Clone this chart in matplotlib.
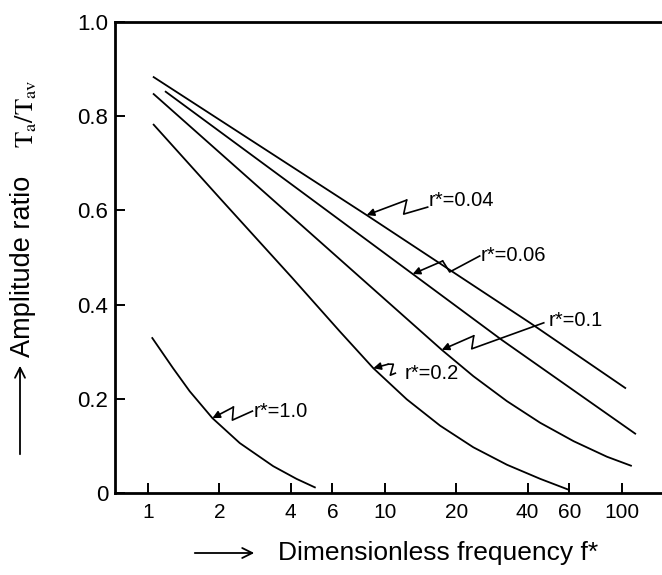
import numpy as np
import matplotlib.pyplot as plt
from matplotlib import transforms
from matplotlib.patches import FancyArrowPatch
from matplotlib.ticker import FixedLocator, NullLocator

plt.rcParams['font.family'] = ['Liberation Sans', 'DejaVu Sans']
plt.rcParams['mathtext.fontset'] = 'stix'

# curves: dimensionless frequency f* vs amplitude ratio
f_004 = [1.057, 8.37, 41.0, 103.2]
a_004 = [0.883, 0.590, 0.361, 0.223]

f_006 = [1.188, 4.04, 13.09, 31.1, 113.7]
a_006 = [0.852, 0.655, 0.465, 0.325, 0.126]

f_01 = [1.057, 4.04, 8.93, 17.36, 23.6, 32.7, 45.2, 62.5, 86.4, 109.1]
a_01 = [0.847, 0.587, 0.433, 0.304, 0.248, 0.195, 0.149, 0.110, 0.077, 0.058]

f_02 = [1.057, 2.01, 4.04, 6.45, 8.93, 12.35, 17.08, 23.6, 32.7, 45.2, 59.5]
a_02 = [0.782, 0.626, 0.458, 0.343, 0.265, 0.199, 0.143, 0.097, 0.060, 0.030, 0.007]

f_10 = [1.043, 1.276, 1.50, 1.87, 2.44, 3.375, 4.235, 5.06]
a_10 = [0.329, 0.265, 0.216, 0.159, 0.106, 0.057, 0.030, 0.012]

curves = [(f_004, a_004), (f_006, a_006), (f_01, a_01), (f_02, a_02), (f_10, a_10)]
labels = ['r*=0.04', 'r*=0.06', 'r*=0.1', 'r*=0.2', 'r*=1.0']
tip_f = [8.37, 13.09, 17.36, 8.93, 1.87]

xticks = [1, 2, 4, 6, 10, 20, 40, 60, 100]
yticks = [0, 0.2, 0.4, 0.6, 0.8, 1.0]
yticklabels = ['0', '0.2', '0.4', '0.6', '0.8', '1.0']

# zigzag leader lines, pixel offsets from the arrow tip
zigzags = [
    [(40, 15), (37, 1), (61, 8)],
    [(30, 13), (37, 2), (67, 18)],
    [(32, 14), (30, 1), (102, 27)],
    [(15, 4), (20, 4), (17, -7), (22, -5)],
    [(21, 11), (20, -2), (40, 7)],
]
text_off = [(62, 15), (68, 18), (107, 29), (31, -5), (41, 7)]

fig = plt.figure(figsize=(6.62, 5.75), dpi=100)
ax = fig.add_axes([115/662, 82/575, 547/662, 471/575])

for f, a in curves:
    ax.plot(f, a, color='black', lw=1.3)

ax.set_xscale('log')
ax.set_xlim(0.726, 147.5)
ax.set_ylim(0, 1.0)

ax.xaxis.set_major_locator(FixedLocator(xticks))
ax.xaxis.set_minor_locator(NullLocator())
ax.set_xticklabels([str(t) for t in xticks], fontsize=15)
ax.set_yticks(yticks)
ax.set_yticklabels(yticklabels, fontsize=16)
ax.tick_params(axis='both', direction='in', length=7, width=1.4)
ax.tick_params(axis='y', pad=5)
ax.tick_params(axis='x', pad=7)

ax.spines['right'].set_visible(False)
for s in ['left', 'bottom', 'top']:
    ax.spines[s].set_linewidth(2.0)

for (f, a), lab, tf, zz, to in zip(curves, labels, tip_f, zigzags, text_off):
    ty = np.interp(np.log10(tf), np.log10(f), a)
    ax.annotate('', xy=(tf, ty), xytext=zz[0], textcoords='offset pixels',
                arrowprops=dict(arrowstyle='-|>', color='black', lw=1.2,
                                mutation_scale=11, shrinkA=0, shrinkB=0))
    tip = ax.transData.transform((tf, ty))
    pts = np.array(zz) + tip
    ax.plot(pts[:, 0], pts[:, 1], color='black', lw=1.2,
            transform=transforms.IdentityTransform(), clip_on=False)
    ax.annotate(lab, xy=(tf, ty), xytext=to, textcoords='offset pixels',
                ha='left', va='center', fontsize=14.5)

# axis labels with the arrows
fig.text(23/662, 1 - 266/575, 'Amplitude ratio', rotation=90,
         ha='center', va='center', fontsize=19.5)
fig.text(26/662, 1 - 114/575, r'$\mathrm{T_a/T_{av}}$', rotation=90,
         ha='center', va='center', fontsize=19)
fig.text(278/662, 1 - 553/575, 'Dimensionless frequency f*',
         ha='left', va='center', fontsize=19)
fig.add_artist(FancyArrowPatch(
    (20/662, 1 - 457/575), (20/662, 1 - 363/575), transform=fig.transFigure,
    arrowstyle='->', mutation_scale=18, lw=1.3, color='black'))
fig.add_artist(FancyArrowPatch(
    (192/662, 1 - 553/575), (257/662, 1 - 553/575), transform=fig.transFigure,
    arrowstyle='->', mutation_scale=18, lw=1.3, color='black'))

fig.savefig('out.png', dpi=100)
